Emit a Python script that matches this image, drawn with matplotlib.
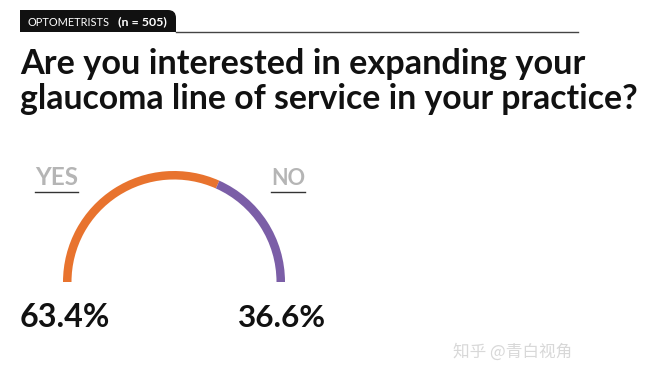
import matplotlib
matplotlib.use("Agg")
import matplotlib.pyplot as plt
from matplotlib.patches import Wedge, FancyBboxPatch, Rectangle
import numpy as np

# data
categories = ["YES", "NO"]
values = [63.4, 36.6]
colors = ["#e8732e", "#7b5ea7"]
header_group = "OPTOMETRISTS"
header_n = "(n = 505)"
title_lines = ["Are you interested in expanding your",
               "glaucoma line of service in your practice?"]
watermark = "知乎 @青白视角"

W, H = 666, 384
fig = plt.figure(figsize=(W / 100, H / 100), dpi=100)
ax = fig.add_axes([0, 0, 1, 1])
ax.set_xlim(0, W)
ax.set_ylim(H, 0)
ax.axis("off")
renderer = fig.canvas.get_renderer()


def fit_text(x, y, s, width, size0, **kw):
    t = ax.text(x, y, s, fontsize=size0, **kw)
    bb = t.get_window_extent(renderer)
    t.set_fontsize(size0 * width / bb.width)
    return t


# header tab
ax.add_patch(FancyBboxPatch((20, 10), 156, 32, boxstyle="round,pad=0,rounding_size=8",
                            fc="#111111", ec="none"))
ax.add_patch(Rectangle((19, 32), 170, 12, fc="white", ec="none"))
ax.add_patch(Rectangle((20, 10), 20, 22, fc="#111111", ec="none"))
ax.plot([176, 578], [31.5, 31.5], color="#444444", lw=1)
fit_text(28, 25.5, header_group, 82, 8, color="white", va="baseline",
         ha="left", family="Lato")
fit_text(118, 25.5, header_n, 49, 8, color="white", va="baseline",
         ha="left", family="Lato", fontweight="bold")

# title
fit_text(20, 74, title_lines[0], 565, 20, family="Lato", fontweight="bold",
         va="baseline", ha="left", color="#111111")
fit_text(20, 109, title_lines[1], 616, 20, family="Lato", fontweight="bold",
         va="baseline", ha="left", color="#111111")

# semicircle gauge (y axis is inverted, so the upper half is 180..360 in data angles)
cx, cy, r, wd = 174, 282, 111, 8.5
total = sum(values)
start = 180.0
for v, c in zip(values, colors):
    span = 180.0 * v / total
    ax.add_patch(Wedge((cx, cy), r, start, start + span, width=wd, fc=c, ec="none"))
    start += span

# labels
label_x = [35, 271]
label_w = [43, 34]
for lab, x, w in zip(categories, label_x, label_w):
    fit_text(x, 185, lab, w, 12, family="Lato", fontweight="bold",
             color="#b5b5b5", ha="left", va="baseline")
    ax.plot([x, x + w], [191.5, 191.5], color="#333333", lw=1)

pct_x = [20, 238]
pct_w = [90, 88]
for v, x, w in zip(values, pct_x, pct_w):
    fit_text(x, 327, f"{v}%", w, 24, family="Lato",
             fontweight="bold", color="#111111", ha="left", va="baseline")

ax.text(453, 352, watermark, family=["Noto Sans CJK SC", "DejaVu Sans"], fontsize=12,
        color="#d8d8d8", ha="left", va="center")

fig.savefig("out.png", dpi=100, facecolor="white")
